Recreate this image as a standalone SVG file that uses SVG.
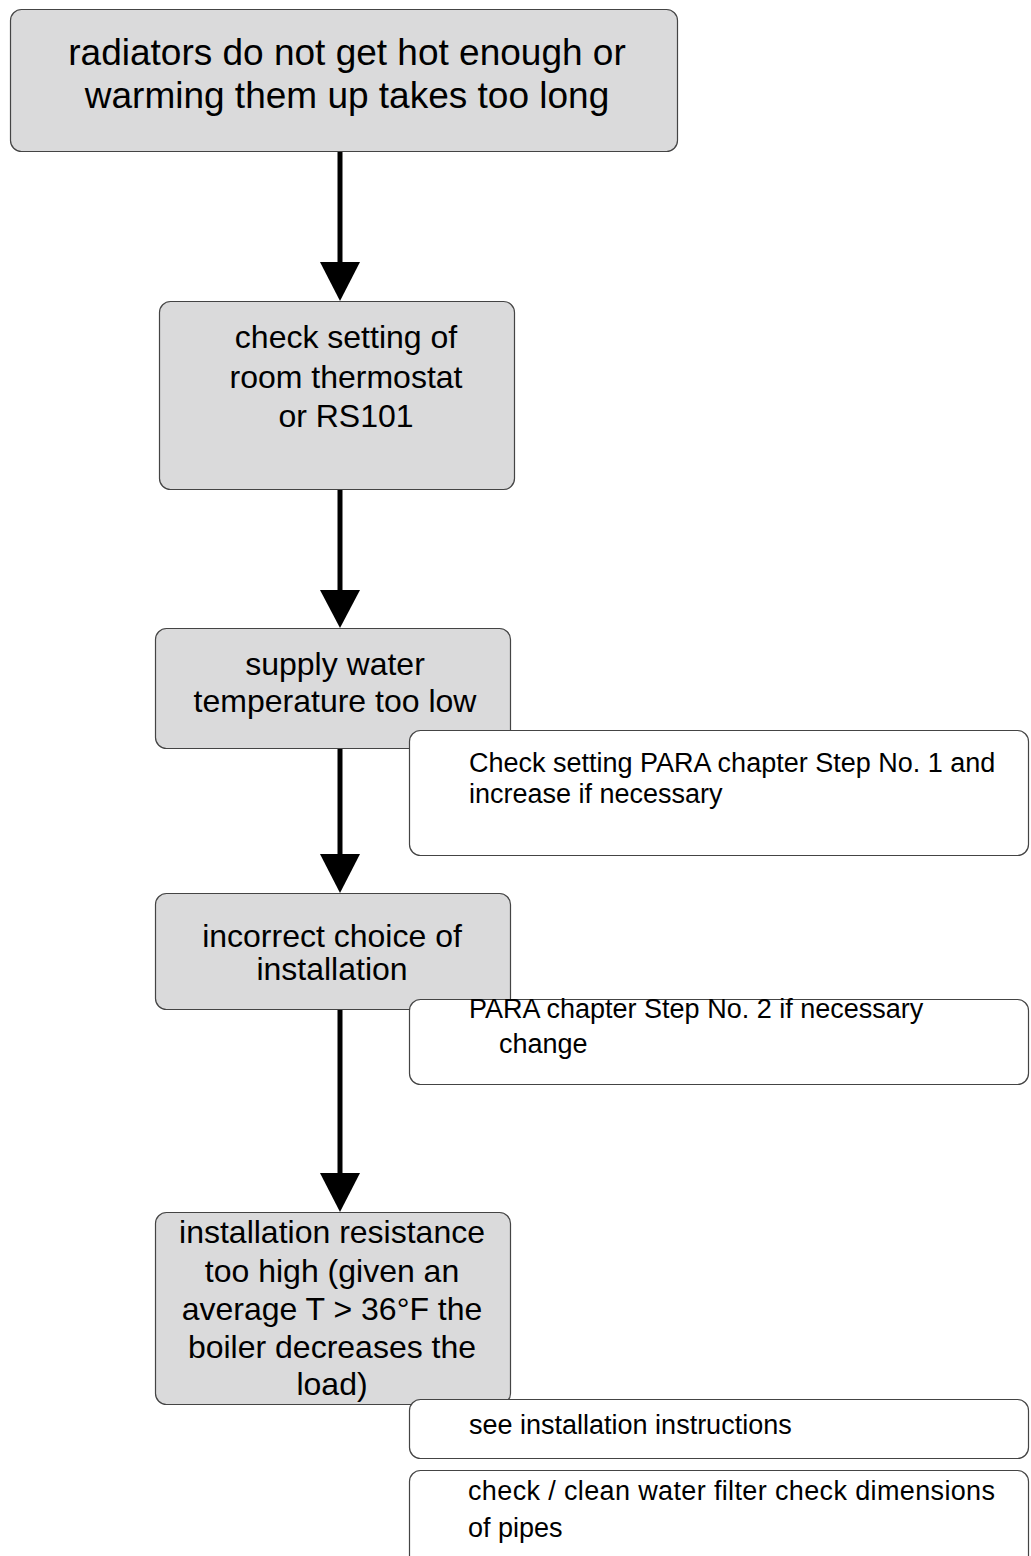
<svg xmlns="http://www.w3.org/2000/svg" width="1031" height="1556" viewBox="0 0 1031 1556">
<style>
.gbox{fill:#dadadb;stroke:#444;stroke-width:1.2}
.nbox{fill:#ffffff;stroke:#444;stroke-width:1.2}
.t{font-family:"Liberation Sans",Arial,sans-serif;fill:#000}
.big{font-size:37px;text-anchor:middle}
.mid{font-size:32px;text-anchor:middle}
.note{font-size:27px}
.conn{stroke:#000;stroke-width:5;fill:none}
.head{fill:#000}
</style>
<rect width="1031" height="1556" fill="#fff"/>
<g id="connectors">
<line class="conn" x1="340" y1="151" x2="340" y2="264"/>
<polygon class="head" points="320,262 360,262 340,301"/>
<line class="conn" x1="340" y1="490" x2="340" y2="592"/>
<polygon class="head" points="320,590 360,590 340,628"/>
<line class="conn" x1="340" y1="748" x2="340" y2="856"/>
<polygon class="head" points="320,854 360,854 340,893"/>
<line class="conn" x1="340" y1="1009" x2="340" y2="1175"/>
<polygon class="head" points="320,1173 360,1173 340,1212"/>
</g>
<g id="n1">
<rect class="gbox" x="10.5" y="9.5" width="667" height="142" rx="11"/>
<text class="t big" x="347" y="65">radiators do not get hot enough or</text>
<text class="t big" x="347" y="108">warming them up takes too long</text>
</g>
<g id="n2">
<rect class="gbox" x="159.5" y="301.5" width="355" height="188" rx="11"/>
<text class="t mid" x="346" y="348">check setting of</text>
<text class="t mid" x="346" y="388">room thermostat</text>
<text class="t mid" x="346" y="427">or RS101</text>
</g>
<g id="n3">
<rect class="gbox" x="155.5" y="628.5" width="355" height="120" rx="11"/>
<text class="t mid" x="335" y="675">supply water</text>
<text class="t mid" x="335" y="712">temperature too low</text>
</g>
<g id="a1">
<rect class="nbox" x="409.5" y="730.5" width="619" height="125" rx="11"/>
<text class="t note" x="469" y="772">Check setting PARA chapter Step No. 1 and</text>
<text class="t note" x="469" y="803">increase if necessary</text>
</g>
<g id="n4">
<rect class="gbox" x="155.5" y="893.5" width="355" height="116" rx="11"/>
<text class="t mid" x="332" y="947">incorrect choice of</text>
<text class="t mid" x="332" y="980">installation</text>
</g>
<g id="a2">
<rect class="nbox" x="409.5" y="999.5" width="619" height="85" rx="11"/>
<text class="t note" x="469" y="1018">PARA chapter Step No. 2 if necessary</text>
<text class="t note" x="499" y="1053">change</text>
</g>
<g id="n5">
<rect class="gbox" x="155.5" y="1212.5" width="355" height="192" rx="11"/>
<text class="t mid" x="332" y="1243">installation resistance</text>
<text class="t mid" x="332" y="1282">too high (given an</text>
<text class="t mid" x="332" y="1320">average T &gt; 36°F the</text>
<text class="t mid" x="332" y="1358">boiler decreases the</text>
<text class="t mid" x="332" y="1395">load)</text>
</g>
<g id="a3">
<rect class="nbox" x="409.5" y="1399.5" width="619" height="59" rx="11"/>
<text class="t note" x="469" y="1434">see installation instructions</text>
</g>
<g id="a4">
<rect class="nbox" x="409.5" y="1470.5" width="619" height="110" rx="11"/>
<text class="t note" x="468" y="1500" textLength="527" lengthAdjust="spacing">check / clean water filter check dimensions</text>
<text class="t note" x="468" y="1537">of pipes</text>
</g>
</svg>
